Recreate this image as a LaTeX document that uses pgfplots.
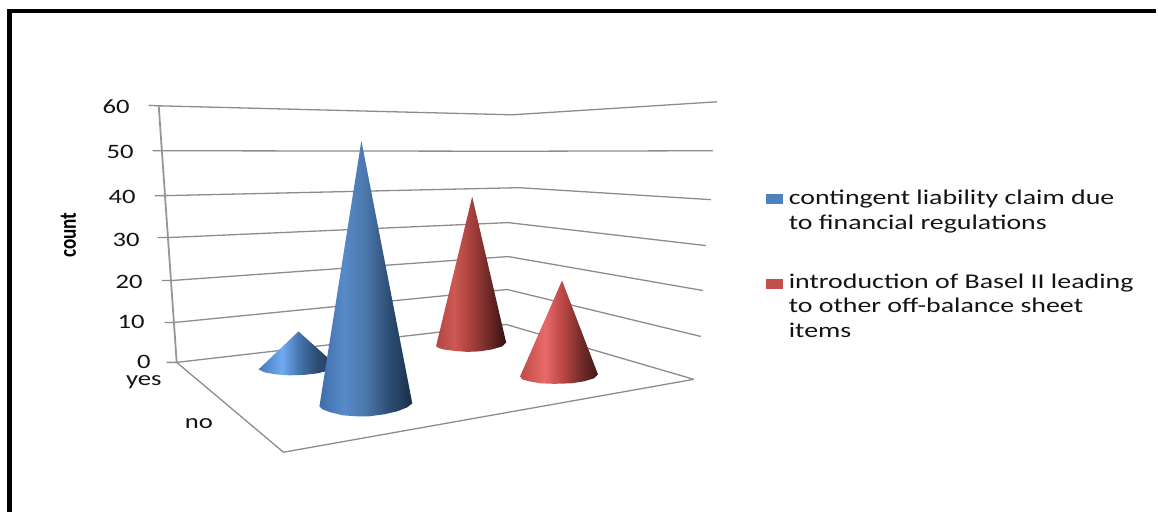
\documentclass[border=0pt]{standalone}
\usepackage{pgfplots}
\pgfplotsset{compat=1.18}
\usepackage{fontspec}
\setmainfont{Carlito}
\newfontfamily\tickfont[FakeStretch=1.3]{Carlito}
\newfontfamily\legendfont[FakeStretch=1.33]{Carlito}
\newfontfamily\titlefont[FakeStretch=0.8]{Carlito}

% Horizontal cone shadings: the path's extent maps onto 25bp..75bp
\pgfdeclarehorizontalshading{coneBlueBig}{100bp}{
  color(0bp)=(rgb,255:red,62;green,110;blue,170);
  color(25bp)=(rgb,255:red,62;green,110;blue,170);
  color(38bp)=(rgb,255:red,88;green,138;blue,200);
  color(50bp)=(rgb,255:red,74;green,118;blue,170);
  color(63bp)=(rgb,255:red,44;green,76;blue,114);
  color(75bp)=(rgb,255:red,26;green,46;blue,72);
  color(100bp)=(rgb,255:red,26;green,46;blue,72)}
\pgfdeclarehorizontalshading{coneBlueSmall}{100bp}{
  color(0bp)=(rgb,255:red,72;green,122;blue,186);
  color(25bp)=(rgb,255:red,72;green,122;blue,186);
  color(40bp)=(rgb,255:red,112;green,170;blue,240);
  color(50bp)=(rgb,255:red,72;green,120;blue,178);
  color(62bp)=(rgb,255:red,44;green,76;blue,114);
  color(75bp)=(rgb,255:red,34;green,60;blue,92);
  color(100bp)=(rgb,255:red,34;green,60;blue,92)}
\pgfdeclarehorizontalshading{coneRedBack}{100bp}{
  color(0bp)=(rgb,255:red,180;green,70;blue,68);
  color(25bp)=(rgb,255:red,180;green,70;blue,68);
  color(38bp)=(rgb,255:red,206;green,88;blue,84);
  color(50bp)=(rgb,255:red,166;green,64;blue,60);
  color(63bp)=(rgb,255:red,108;green,40;blue,38);
  color(75bp)=(rgb,255:red,50;green,18;blue,18);
  color(100bp)=(rgb,255:red,50;green,18;blue,18)}
\pgfdeclarehorizontalshading{coneRedFront}{100bp}{
  color(0bp)=(rgb,255:red,190;green,74;blue,72);
  color(25bp)=(rgb,255:red,190;green,74;blue,72);
  color(41bp)=(rgb,255:red,232;green,106;blue,104);
  color(52bp)=(rgb,255:red,186;green,72;blue,70);
  color(64bp)=(rgb,255:red,116;green,44;blue,42);
  color(75bp)=(rgb,255:red,66;green,24;blue,24);
  color(100bp)=(rgb,255:red,66;green,24;blue,24)}

\definecolor{gridgray}{RGB}{140,140,140}
\definecolor{wallgray}{RGB}{150,150,150}
\definecolor{legendblue}{RGB}{79,129,189}
\definecolor{legendred}{RGB}{192,80,77}
\definecolor{inktext}{RGB}{20,20,20}

\begin{document}
\begin{tikzpicture}[x=1pt,y=1pt]
\begin{axis}[
  at={(0,0)}, anchor=south west,
  scale only axis, width=1158pt, height=513pt,
  xmin=0, xmax=1158, ymin=0, ymax=513, y dir=reverse,
  hide axis, clip=false,
  grid line/.style={draw=gridgray, line width=1.3pt},
]
% frame, open towards the bottom and the right
\addplot[black, line width=4pt, line cap=butt] coordinates {(7,11.5) (1158,11.5)};
\addplot[black, line width=5pt, line cap=butt] coordinates {(9.5,10) (9.5,513)};

% value grid on the two walls
\addplot[grid line] coordinates {(149,105.5) (159,106) (513,115) (718,102)};
\addplot[grid line] coordinates {(153,151) (162,151) (515,151.5) (714,151)};
\addplot[grid line] coordinates {(155,196) (165,196) (520,188) (712,200)};
\addplot[grid line] coordinates {(158,238) (168,238) (509,223) (707,246)};
\addplot[grid line] coordinates {(162,281) (172,281) (509,257) (704,291)};
\addplot[grid line] coordinates {(165,323) (175,323) (508,290) (702,337)};
\addplot[grid line] coordinates {(167,363) (177,363) (507,325) (695,380)};

% vertical axis and floor
\addplot[draw=wallgray, line width=1.8pt] coordinates {(159,106) (177,363)};
\addplot[grid line] coordinates {(177,363) (284,453) (695,380)};

% cones, back row first
\addplot[draw=none, shading=coneRedBack] coordinates {(473,197) (507,343) (503,347) (493,350) (480,352) (468,352.5) (455,351.5) (444,350) (438,348) (437,346)} -- cycle;
\addplot[draw=none, shading=coneBlueSmall] coordinates {(299,332) (338,367) (330,371) (318,374) (305,375.5) (290,376) (276,375) (265,373) (259,370)} -- cycle;
\addplot[draw=none, shading=coneRedFront] coordinates {(563,281) (599,375) (595,379) (585,382) (572,384) (555,384.5) (542,384) (530,382) (523,380) (521,377)} -- cycle;
\addplot[draw=none, shading=coneBlueBig] coordinates {(362,141) (413,404) (408,408) (398,412) (385,415) (370,417) (357,417) (343,416) (331,413) (323,410) (320,407)} -- cycle;

% legend keys
\addplot[draw=none, fill=legendblue] coordinates {(767,194) (784,194) (784,204) (767,204)} -- cycle;
\addplot[draw=none, fill=legendred] coordinates {(767,279) (784,279) (784,289) (767,289)} -- cycle;

% value labels along the slanted axis
\foreach \val/\px/\py in {60/130/113.5, 50/134/158.5, 40/136/203.5, 30/140/246.5, 20/143/288.5, 10/145/329.5, 0/151/369.5}{
  \edef\temp{\noexpand\node[anchor=base east, inner sep=0pt, text=inktext, font=\noexpand\tickfont\noexpand\fontsize{20.5}{22}\noexpand\selectfont] at (axis cs:\px,\py) {\val};}
  \temp
}
\node[anchor=base east, inner sep=0pt, text=inktext, font=\tickfont\fontsize{20.5}{22}\selectfont] at (axis cs:162,386.5) {yes};
\node[anchor=base east, inner sep=0pt, text=inktext, font=\tickfont\fontsize{20.5}{22}\selectfont] at (axis cs:213.5,429) {no};
\node[rotate=90, anchor=base, inner sep=0pt, text=black, font=\titlefont\bfseries\fontsize{24}{26}\selectfont] at (axis cs:76,235.5) {count};

% legend text; each node is anchored at the baseline of its last line
\node[anchor=base west, inner sep=0pt, align=left, text=inktext, font=\legendfont\fontsize{21}{24.5}\selectfont] at (axis cs:790,229.5) {contingent liability claim due\\to financial regulations};
\node[anchor=base west, inner sep=0pt, align=left, text=inktext, font=\legendfont\fontsize{21}{24.5}\selectfont] at (axis cs:790,338) {introduction of Basel II leading\\to other off-balance sheet\\items};
\end{axis}
\path[use as bounding box] (0,0) rectangle (1158pt,513pt);
\end{tikzpicture}
\end{document}
